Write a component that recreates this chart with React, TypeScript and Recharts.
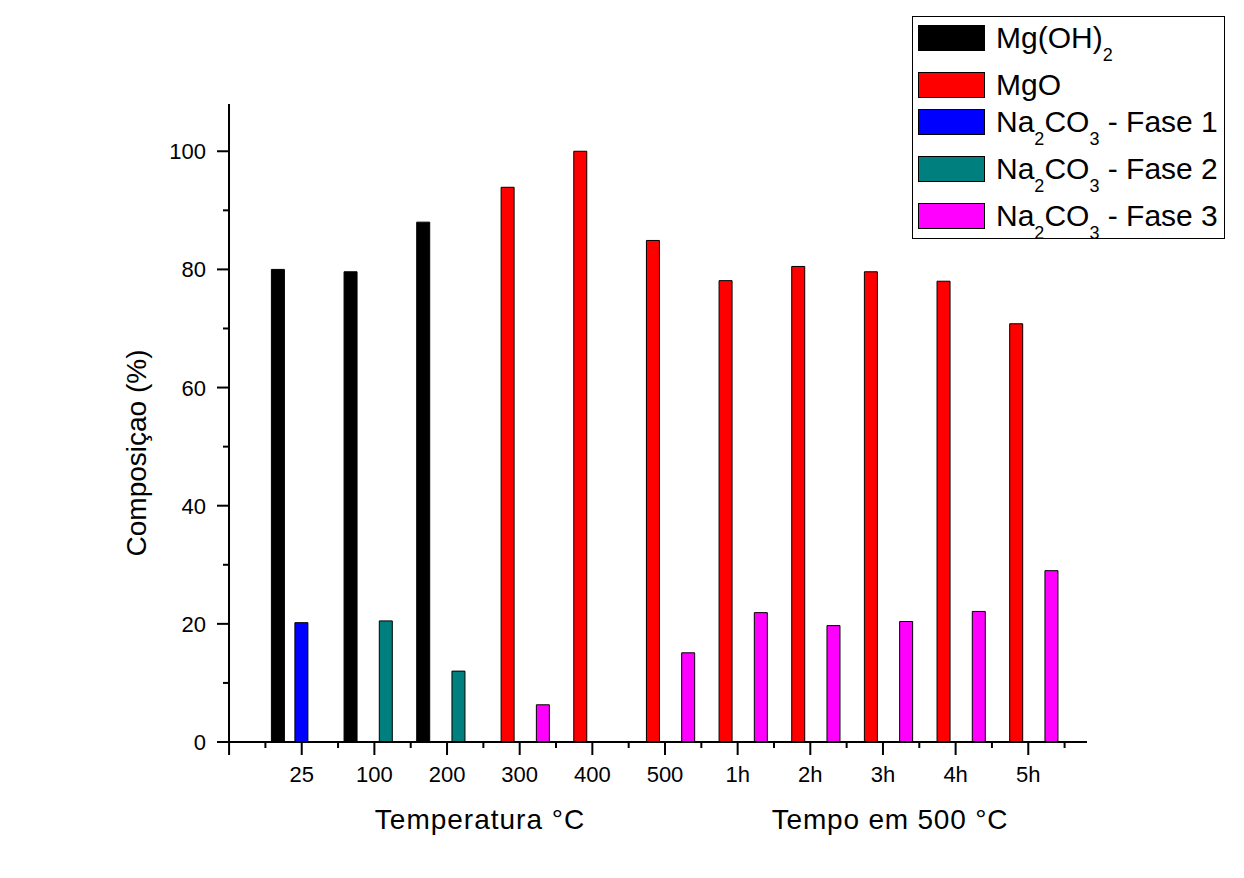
import { Bar, BarChart, XAxis, YAxis } from "recharts";

const categories = ["25", "100", "200", "300", "400", "500", "1h", "2h", "3h", "4h", "5h"];
const mgOH2Values = [80, 79.6, 88, null, null, null, null, null, null, null, null];
const mgOValues = [null, null, null, 93.9, 100, 84.9, 78.1, 80.5, 79.6, 78, 70.8];
const fase1Values = [20.2, null, null, null, null, null, null, null, null, null, null];
const fase2Values = [null, 20.5, 12, null, null, null, null, null, null, null, null];
const fase3Values = [null, null, null, 6.3, null, 15.1, 21.9, 19.7, 20.4, 22.1, 29];
const yTicks = [0, 10, 20, 30, 40, 50, 60, 70, 80, 90, 100];

const SERIES = [
  { key: "mgOH2", color: "#000000" },
  { key: "mgO", color: "#ff0000" },
  { key: "fase1", color: "#0000ff" },
  { key: "fase2", color: "#007f7f" },
  { key: "fase3", color: "#ff00ff" },
];

const FONT = '"Liberation Sans", Arial, sans-serif';
const BAND = 72.65;

const data = categories.map((c, i) => ({
  cat: c,
  mgOH2: mgOH2Values[i],
  mgO: mgOValues[i],
  fase1: fase1Values[i],
  fase2: fase2Values[i],
  fase3: fase3Values[i],
}));

function XTick(props: any) {
  const { x, y, payload, index } = props;
  const last = index === categories.length - 1;
  return (
    <g>
      {index === 0 && <line x1={x - BAND} x2={x - BAND} y1={y} y2={y + 13} stroke="#000" strokeWidth={2} />}
      <line x1={x - BAND / 2} x2={x - BAND / 2} y1={y} y2={y + 6} stroke="#000" strokeWidth={2} />
      <line x1={x} x2={x} y1={y} y2={y + 13} stroke="#000" strokeWidth={2} />
      {last && <line x1={x + BAND / 2} x2={x + BAND / 2} y1={y} y2={y + 6} stroke="#000" strokeWidth={2} />}
      <text x={x} y={y + 40} textAnchor="middle" fontSize={22} fontFamily={FONT} fill="#000">
        {payload.value}
      </text>
    </g>
  );
}

function YTick(props: any) {
  const { x, y, payload } = props;
  const major = payload.value % 20 === 0;
  return (
    <g>
      <line x1={x} x2={x - (major ? 12 : 6)} y1={y} y2={y} stroke="#000" strokeWidth={2} />
      {major && (
        <text x={x - 23} y={y + 8} textAnchor="end" fontSize={22} fontFamily={FONT} fill="#000">
          {payload.value}
        </text>
      )}
    </g>
  );
}

const sub = { fontSize: 18, verticalAlign: "baseline", position: "relative" as const, top: 13 };

const legendItems = [
  { color: "#000000", top: 24, label: <>Mg(OH)<span style={sub}>2</span></> },
  { color: "#ff0000", top: 71, label: <>MgO</> },
  { color: "#0000ff", top: 108, label: <>Na<span style={sub}>2</span>CO<span style={sub}>3</span> - Fase 1</> },
  { color: "#007f7f", top: 155, label: <>Na<span style={sub}>2</span>CO<span style={sub}>3</span> - Fase 2</> },
  { color: "#ff00ff", top: 202, label: <>Na<span style={sub}>2</span>CO<span style={sub}>3</span> - Fase 3</> },
];

export default function App() {
  return (
    <div style={{ position: "absolute", left: 0, top: 0, width: 1244, height: 878, background: "#fff", fontFamily: FONT }}>
      <BarChart
        width={1244}
        height={878}
        data={data}
        margin={{ top: 104, right: 157, bottom: 76, left: 129 }}
        barSize={13}
        barGap={-1.25}
      >
        <XAxis
          dataKey="cat"
          height={60}
          padding={{ left: 36.4, right: 22.4 }}
          axisLine={{ stroke: "#000", strokeWidth: 2 }}
          tickLine={false}
          tickSize={0}
          tickMargin={0}
          interval={0}
          tick={<XTick />}
        />
        <YAxis
          width={100}
          domain={[0, 108]}
          ticks={yTicks}
          interval={0}
          axisLine={{ stroke: "#000", strokeWidth: 2 }}
          tickLine={false}
          tickSize={0}
          tickMargin={0}
          tick={<YTick />}
        />
        {SERIES.map((s) => (
          <Bar key={s.key} dataKey={s.key} fill={s.color} stroke="#000" strokeWidth={1} isAnimationActive={false} />
        ))}
      </BarChart>

      <div
        style={{
          position: "absolute",
          left: 137,
          top: 453,
          transform: "translate(-50%, -50%) rotate(-90deg)",
          fontSize: 28,
          whiteSpace: "nowrap",
        }}
      >
        Composiçao (%)
      </div>
      <div style={{ position: "absolute", left: 480, top: 804, transform: "translateX(-50%)", fontSize: 28, letterSpacing: 1, whiteSpace: "nowrap" }}>
        Temperatura °C
      </div>
      <div style={{ position: "absolute", left: 890, top: 804, transform: "translateX(-50%)", fontSize: 28, letterSpacing: 0.8, whiteSpace: "nowrap" }}>
        Tempo em 500 °C
      </div>

      <div
        style={{
          position: "absolute",
          left: 912,
          top: 16,
          width: 313,
          height: 223,
          border: "1px solid #000",
          boxSizing: "border-box",
        }}
      >
        {legendItems.map((it, i) => (
          <div key={i} style={{ position: "absolute", left: 5, top: it.top - 16, display: "flex", alignItems: "flex-start" }}>
            <div
              style={{
                width: 67,
                height: 26,
                background: it.color,
                border: "1px solid #000",
                boxSizing: "border-box",
              }}
            />
            <div style={{ marginLeft: 11, fontSize: 30, lineHeight: "26px", whiteSpace: "nowrap" }}>{it.label}</div>
          </div>
        ))}
      </div>
    </div>
  );
}
